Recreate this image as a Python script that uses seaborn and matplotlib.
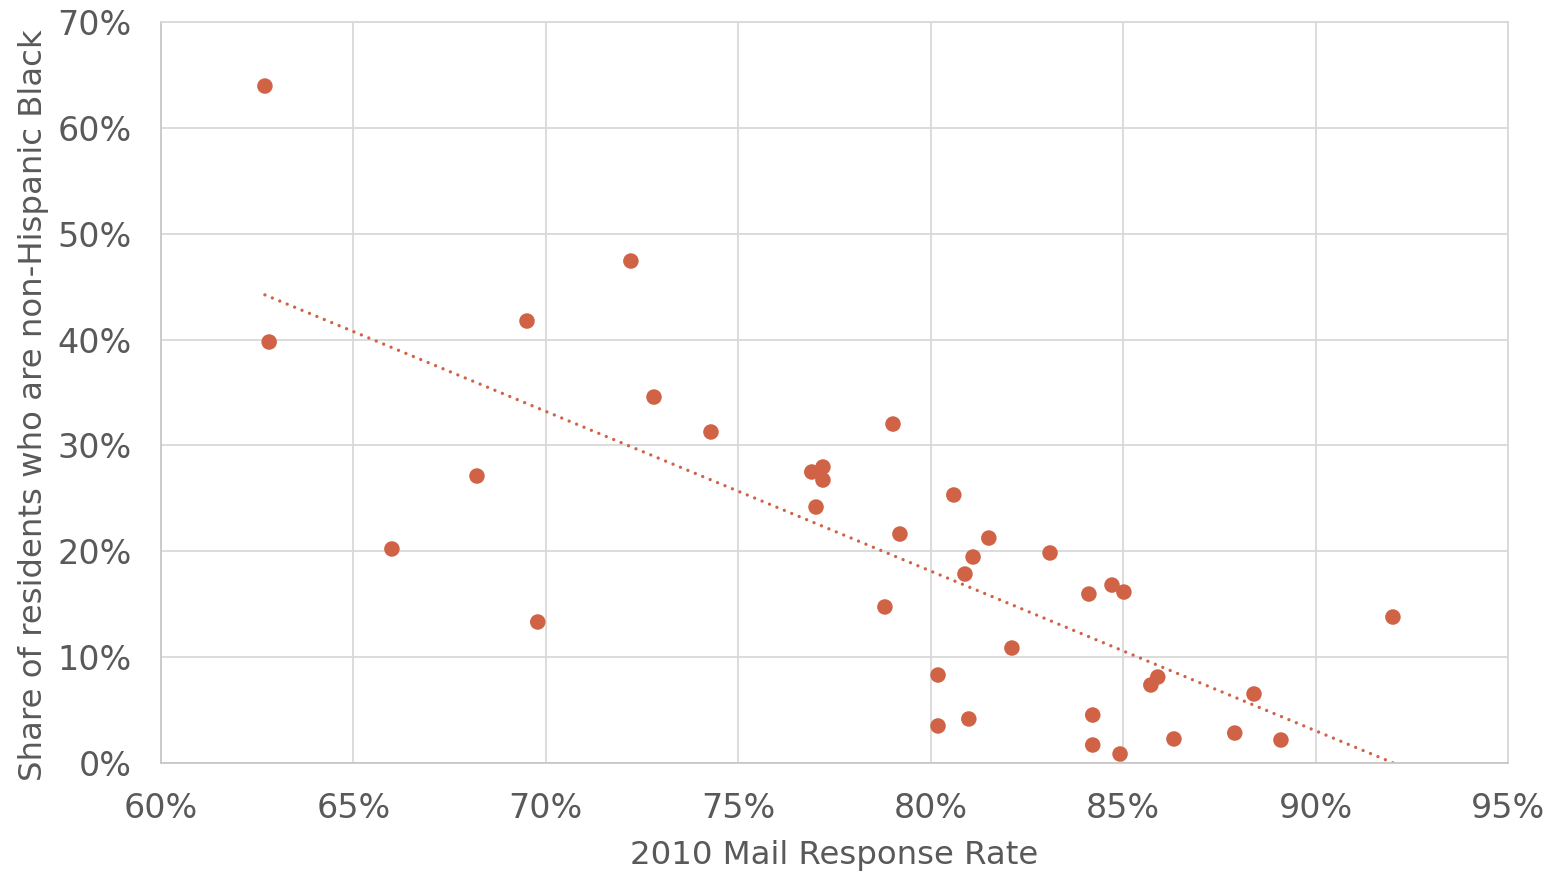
import numpy as np
import pandas as pd
import matplotlib
matplotlib.use("Agg")
import matplotlib.pyplot as plt
import seaborn as sns
from matplotlib.ticker import FuncFormatter

mail_response = [62.70, 62.81, 66.00, 68.21, 69.51, 69.79, 72.21, 72.81, 74.29,
                 76.91, 77.20, 77.20, 77.02, 78.81, 79.02, 79.20, 80.19, 80.19,
                 80.60, 80.89, 80.99, 81.10, 81.51, 82.11, 83.10, 84.11, 84.21,
                 84.21, 84.71, 84.92, 85.02, 85.72, 85.90, 86.32, 87.90, 88.40,
                 89.10, 92.01]
share_black = [63.95, 39.77, 20.22, 27.11, 41.75, 13.32, 47.42, 34.57, 31.27,
               27.49, 27.96, 26.73, 24.18, 14.74, 32.02, 21.63, 8.31, 3.50,
               25.32, 17.85, 4.16, 19.46, 21.25, 10.86, 19.84, 15.96, 4.53,
               1.70, 16.81, 0.85, 16.15, 7.37, 8.12, 2.27, 2.83, 6.52,
               2.17, 13.79]
x_ticks = [60, 65, 70, 75, 80, 85, 90, 95]
y_ticks = [0, 10, 20, 30, 40, 50, 60, 70]

df = pd.DataFrame({"x": mail_response, "y": share_black})

sns.set_theme(style="white")
plt.rcParams['font.family'] = ['DejaVu Sans']

color = "#D06346"
text_color = "#595959"
grid_color = "#D9D9D9"

fig = plt.figure(figsize=(15.52, 8.72), dpi=100)
ax = fig.add_axes([161/1552, 1 - 763/872, (1508-161)/1552, (763-22)/872])

sns.regplot(data=df, x="x", y="y", ax=ax, scatter=False, ci=None, truncate=True,
            line_kws=dict(color=color, linewidth=2.4, linestyle=(0, (0.01, 2.4)),
                          dash_capstyle="round"))
sns.scatterplot(data=df, x="x", y="y", ax=ax, color=color, s=125,
                edgecolor="none", zorder=3)

ax.set_xlim(60, 95)
ax.set_ylim(0, 70)
ax.set_xticks(x_ticks)
ax.set_yticks(y_ticks)
fmt = FuncFormatter(lambda v, p: f"{v:.0f}%")
ax.xaxis.set_major_formatter(fmt)
ax.yaxis.set_major_formatter(fmt)
ax.grid(True, color=grid_color, linewidth=1.3)
ax.set_axisbelow(True)
for sp in ax.spines.values():
    sp.set_color(grid_color)
    sp.set_linewidth(1.3)
ax.spines['left'].set_color("#C8C8C8")
ax.spines['bottom'].set_color("#C8C8C8")
ax.tick_params(axis="both", length=0, labelsize=24, colors=text_color)
ax.tick_params(axis="y", pad=21)
ax.tick_params(axis="x", pad=21)
ax.set_xlabel("2010 Mail Response Rate", fontsize=23.3, color=text_color, labelpad=11)
ax.set_ylabel("Share of residents who are non-Hispanic Black", fontsize=23.3,
              color=text_color)
ax.yaxis.set_label_coords(-0.0835, 0.483)

fig.savefig("out.png", dpi=100)
